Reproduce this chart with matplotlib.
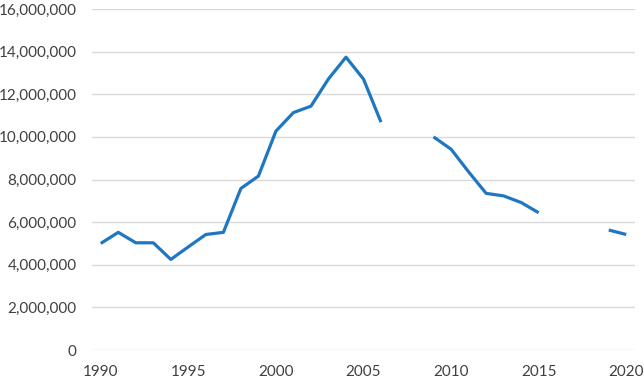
import numpy as np
import matplotlib
matplotlib.use("Agg")
import matplotlib.pyplot as plt
from matplotlib.ticker import FuncFormatter, MultipleLocator

years = list(range(1990, 2021))
values = [
    5.00e6, 5.52e6, 5.03e6, 5.03e6, 4.25e6, 4.84e6, 5.42e6, 5.52e6,
    7.58e6, 8.16e6, 10.27e6, 11.14e6, 11.44e6, 12.72e6, 13.74e6, 12.71e6,
    10.69e6, np.nan, np.nan, 10.00e6, 9.42e6, 8.36e6, 7.35e6, 7.23e6,
    6.92e6, 6.44e6, np.nan, np.nan, np.nan, 5.63e6, 5.42e6,
]
xticks = [1990, 1995, 2000, 2005, 2010, 2015, 2020]

plt.rcParams["font.family"] = ["Lato", "DejaVu Sans"]

fig = plt.figure(figsize=(6.44, 3.83), dpi=100)
ax = fig.add_axes([92 / 644, 33 / 383, 543 / 644, 341 / 383])

ax.plot(years, values, color="#1f77c2", linewidth=2.3, solid_capstyle="butt")

ax.set_xlim(1989.5, 2020.5)
ax.set_ylim(0, 16e6)
ax.yaxis.set_major_locator(MultipleLocator(2e6))
ax.yaxis.set_major_formatter(FuncFormatter(lambda v, _: f"{v:,.0f}"))
ax.set_xticks(xticks)

ax.grid(axis="y", color="#d9d9d9", linewidth=1.0)
ax.set_axisbelow(True)
for side in ["top", "right", "left", "bottom"]:
    ax.spines[side].set_visible(False)
ax.tick_params(axis="both", length=0, labelsize=11, colors="#404040")
ax.tick_params(axis="y", pad=11)
ax.tick_params(axis="x", pad=11)

fig.savefig("out.png", dpi=100)
